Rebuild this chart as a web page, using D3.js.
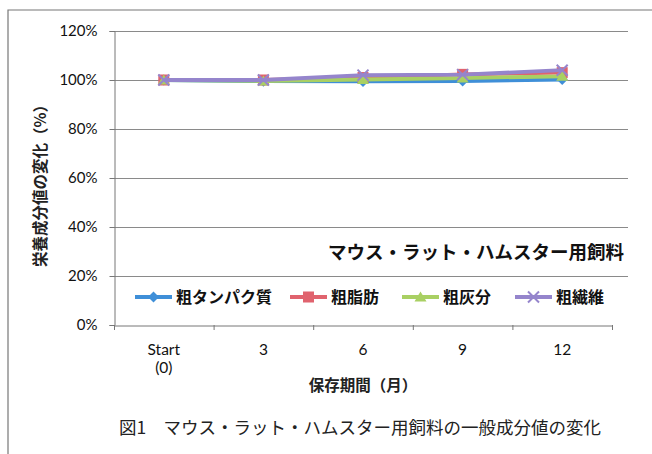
<!DOCTYPE html>
<html>
<head>
<meta charset="utf-8">
<script src="https://cdn.jsdelivr.net/npm/d3@7"></script>
<style>
  body { margin: 0; background: #fff; }
  svg { display: block; }
</style>
</head>
<body>
<div id="chart"></div>
<script>
// chart values
var months = ['Start\n(0)', '3', '6', '9', '12']
var yTicks = [0, 20, 40, 60, 80, 100, 120]
var seriesNames = ['粗タンパク質', '粗脂肪', '粗灰分', '粗繊維']
var protein = [100, 99.5, 99.4, 99.6, 100.2]
var fat = [100, 100, 101, 102.3, 103]
var ash = [100, 99.6, 100.2, 100.8, 101.5]
var fiber = [100, 100, 102, 102.2, 104]

var colors = ['#3f8fd8', '#e0636e', '#a9d063', '#9585cc']
var shapes = ['diamond', 'square', 'triangle', 'cross']
var allSeries = [protein, fat, ash, fiber]

var width = 652, height = 454
var plotLeft = 114, plotRight = 612, plotTop = 31, plotBottom = 325
var jpFont = '"Noto Sans CJK JP", sans-serif'
var numFont = 'Lato, "Open Sans", sans-serif'

var svg = d3.select('#chart').append('svg')
  .attr('width', width)
  .attr('height', height)

// outer frame (only left and top visible in the scan)
svg.append('path')
  .attr('d', 'M8,' + height + 'V10H' + width)
  .attr('fill', 'none')
  .attr('stroke', '#777')
  .attr('stroke-width', 1.2)

var x = d3.scaleBand().domain(months).range([plotLeft, plotRight])
var y = d3.scaleLinear().domain([0, 120]).range([plotBottom, plotTop])

// gridlines
svg.append('g').selectAll('line')
  .data(yTicks.slice(1))
  .enter()
  .append('line')
    .attr('x1', plotLeft).attr('x2', 628)
    .attr('y1', function(d) { return y(d) + 0.5 })
    .attr('y2', function(d) { return y(d) + 0.5 })
    .attr('stroke', '#8a8a8a')
    .attr('stroke-width', 1)

// y axis
var yAxis = svg.append('g')
  .attr('transform', 'translate(' + (plotLeft + 0.5) + ',0)')
  .call(d3.axisLeft(y).tickValues(yTicks).tickSize(5).tickPadding(12)
    .tickFormat(function(d) { return d + '%' }))
yAxis.select('.domain').attr('stroke', '#777')
yAxis.selectAll('.tick line').attr('stroke', '#777')
yAxis.selectAll('text')
  .attr('font-family', numFont)
  .attr('font-size', 15)
  .attr('fill', '#111')

// x axis
var xAxis = svg.append('g')
  .attr('transform', 'translate(0,' + (plotBottom + 0.5) + ')')
  .call(d3.axisBottom(x).tickSize(0).tickFormat(''))
xAxis.select('.domain').attr('stroke', '#777')
svg.append('g').selectAll('line')
  .data(months)
  .enter()
  .append('line')
    .attr('x1', function(d) { return x(d) + 0.5 })
    .attr('x2', function(d) { return x(d) + 0.5 })
    .attr('y1', plotBottom).attr('y2', plotBottom + 5)
    .attr('stroke', '#777')
svg.append('line')
  .attr('x1', plotRight + 0.5).attr('x2', plotRight + 0.5)
  .attr('y1', plotBottom).attr('y2', plotBottom + 5)
  .attr('stroke', '#777')

svg.append('g').selectAll('text')
  .data(months)
  .enter()
  .append('text')
    .attr('x', function(d) { return x(d) + x.bandwidth() / 2 })
    .attr('y', 355)
    .attr('text-anchor', 'middle')
    .attr('font-family', numFont)
    .attr('font-size', 15.5)
    .attr('fill', '#111')
    .each(function(d) {
      var parts = d.split('\n')
      var t = d3.select(this)
      parts.forEach(function(p, i) {
        t.append('tspan')
          .attr('x', x(d) + x.bandwidth() / 2)
          .attr('dy', i == 0 ? 0 : 18)
          .text(p)
      })
    })

// axis titles
svg.append('text')
  .attr('transform', 'translate(46,182) rotate(-90)')
  .attr('text-anchor', 'middle')
  .attr('font-family', jpFont)
  .attr('font-weight', 'bold')
  .attr('font-size', 15.5)
  .attr('fill', '#222')
  .text('栄養成分値の変化（%）')

svg.append('text')
  .attr('x', 363).attr('y', 391)
  .attr('text-anchor', 'middle')
  .attr('font-family', jpFont)
  .attr('font-weight', 'bold')
  .attr('font-size', 15.5)
  .attr('fill', '#222')
  .text('保存期間（月）')

// in-plot label
svg.append('text')
  .attr('x', 624).attr('y', 259)
  .attr('text-anchor', 'end')
  .attr('font-family', jpFont)
  .attr('font-weight', 'bold')
  .attr('font-size', 18.5)
  .attr('fill', '#111')
  .text('マウス・ラット・ハムスター用飼料')

// caption
svg.append('text')
  .attr('x', 360).attr('y', 434)
  .attr('text-anchor', 'middle')
  .attr('font-family', jpFont)
  .attr('font-size', 17.5)
  .attr('fill', '#222')
  .text('図1　マウス・ラット・ハムスター用飼料の一般成分値の変化')

function marker(g, shape, color, cx, cy) {
  if (shape == 'diamond') {
    g.append('path').attr('d', 'M' + cx + ',' + (cy - 5.5) + 'L' + (cx + 5.5) + ',' + cy + 'L' + cx + ',' + (cy + 5.5) + 'L' + (cx - 5.5) + ',' + cy + 'Z')
      .attr('fill', color)
  } else if (shape == 'square') {
    g.append('rect').attr('x', cx - 5.5).attr('y', cy - 5.5).attr('width', 11).attr('height', 11)
      .attr('fill', color)
  } else if (shape == 'triangle') {
    g.append('path').attr('d', 'M' + cx + ',' + (cy - 5.5) + 'L' + (cx + 6) + ',' + (cy + 4.5) + 'L' + (cx - 6) + ',' + (cy + 4.5) + 'Z')
      .attr('fill', color)
  } else {
    g.append('path').attr('d', 'M' + (cx - 5.5) + ',' + (cy - 5.5) + 'L' + (cx + 5.5) + ',' + (cy + 5.5) + 'M' + (cx + 5.5) + ',' + (cy - 5.5) + 'L' + (cx - 5.5) + ',' + (cy + 5.5))
      .attr('stroke', color).attr('stroke-width', 2).attr('fill', 'none')
  }
}

// series lines and markers
var line = d3.line()
  .x(function(d, i) { return x(months[i]) + x.bandwidth() / 2 })
  .y(function(d) { return y(d) })

allSeries.forEach(function(s, k) {
  var g = svg.append('g')
  g.append('path')
    .datum(s)
    .attr('d', line)
    .attr('fill', 'none')
    .attr('stroke', colors[k])
    .attr('stroke-width', 3.8)
  s.forEach(function(v, i) {
    marker(g, shapes[k], colors[k], x(months[i]) + x.bandwidth() / 2, y(v))
  })
})

// legend
var legendX = [135, 290, 402, 515]
var legend = svg.append('g')
seriesNames.forEach(function(name, k) {
  var lx = legendX[k], ly = 297
  legend.append('line')
    .attr('x1', lx).attr('x2', lx + 37)
    .attr('y1', ly).attr('y2', ly)
    .attr('stroke', colors[k])
    .attr('stroke-width', 3.8)
  marker(legend, shapes[k], colors[k], lx + 18.5, ly)
  legend.append('text')
    .attr('x', lx + 41).attr('y', ly + 6)
    .attr('font-family', jpFont)
    .attr('font-weight', 'bold')
    .attr('font-size', 16)
    .attr('fill', '#111')
    .text(name)
})
</script>
</body>
</html>
